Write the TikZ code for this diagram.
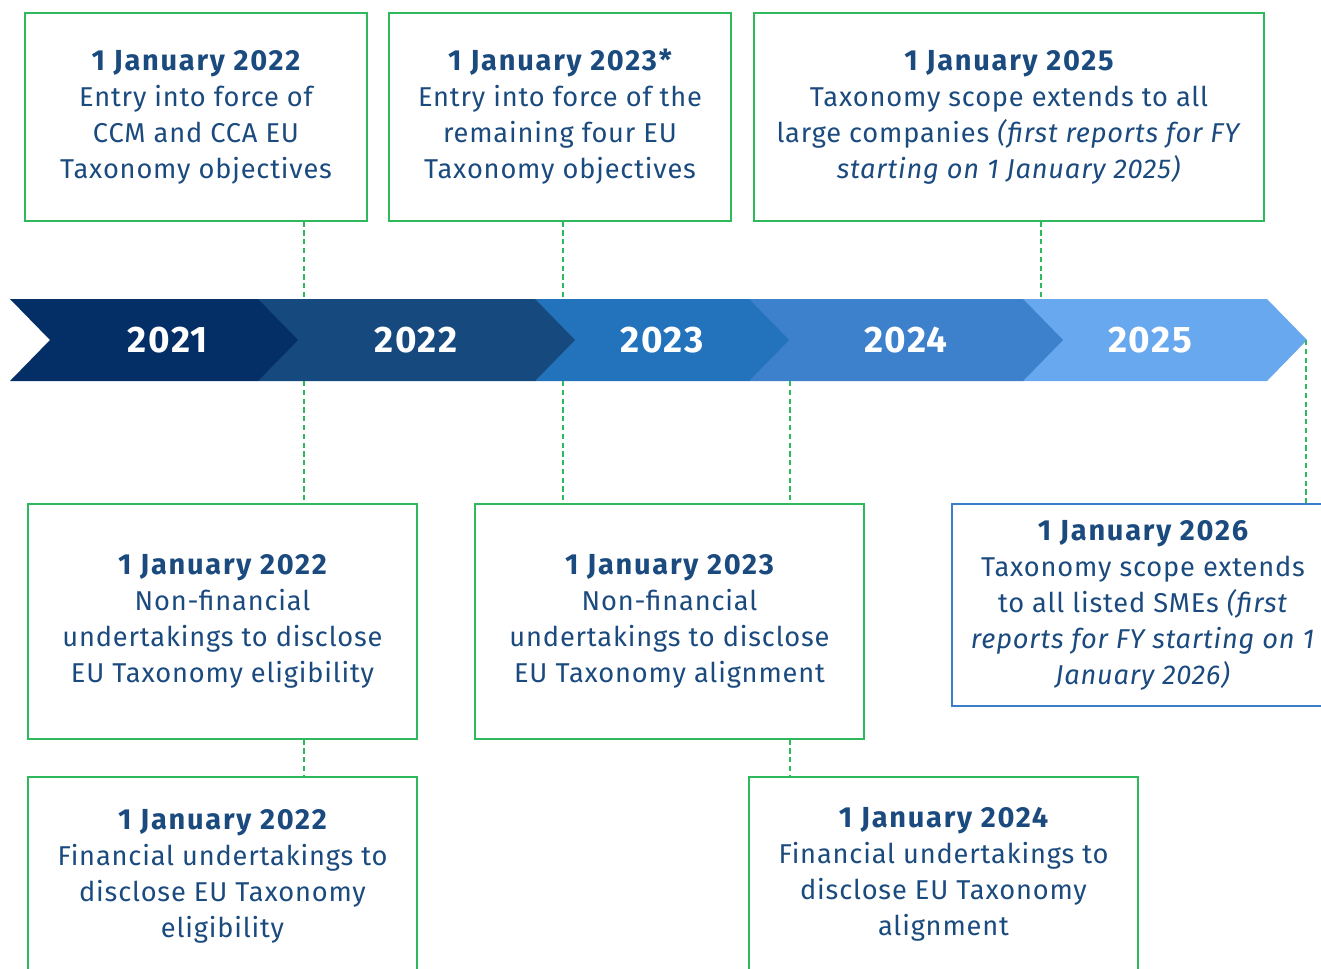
\documentclass[tikz,border=0pt]{standalone}
\usepackage{fontspec}
\setmainfont{Fira Sans}[LetterSpace=3]
\definecolor{yearA}{HTML}{032F66}
\definecolor{yearB}{HTML}{16497E}
\definecolor{yearC}{HTML}{2273BC}
\definecolor{yearD}{HTML}{3D80CC}
\definecolor{yearE}{HTML}{67A8EE}
\definecolor{linkgreen}{HTML}{2EBA5C}
\definecolor{textblue}{HTML}{1A4A7E}
\definecolor{edgeblue}{HTML}{3A7DC9}
\newcommand{\evdate}[1]{{\bfseries\fontsize{16.5}{20.5}\selectfont\addfontfeatures{LetterSpace=6}#1}}
\begin{document}
\begin{tikzpicture}[x=0.02cm,y=-0.02cm,
    evbox/.style={draw=linkgreen, line width=0.75pt, text=textblue, align=center,
      font=\fontsize{15.5}{20.5}\selectfont, inner sep=0pt},
    link/.style={draw=linkgreen, line width=0.6pt, dash pattern=on 3pt off 2pt},
    yearlbl/.style={text=white, font=\fontsize{21}{24}\selectfont\bfseries\addfontfeatures{LetterSpace=4}}]
  \useasboundingbox (0,0) rectangle (1321,968);
  \clip (0,0) rectangle (1321,968);
  % timeline band, drawn back to front
  \foreach \a/\b/\n/\c/\lx/\yr in {1023/1267/0/yearE/1150/2025,749/1023/0/yearD/906/2024,
      535/749/0/yearC/662/2023,258/535/0/yearB/416/2022,10/258/40/yearA/168/2021}{
    \fill[\c] (\a,299) -- (\b,299) -- (\b+40,340) -- (\b,381) -- (\a,381) -- (\a+\n,340) -- cycle;
    \node[yearlbl] (y\yr) at (\lx,340) {\yr};
  }
  \coordinate (bandtop) at (0,299);
  \coordinate (bandbot) at (0,381);
  \coordinate (t22) at (304,340);
  \coordinate (t23) at (563,340);
  \coordinate (t24) at (790,340);
  \coordinate (t25) at (1041,340);
  \coordinate (tip) at (1306,340);
  % boxes above
  \node[evbox, minimum width=6.84cm, minimum height=4.16cm] (top22) at (196,117)
    {\evdate{1 January 2022}\\Entry into force of\\CCM and CCA EU\\Taxonomy objectives};
  \node[evbox, minimum width=6.84cm, minimum height=4.16cm] (top23) at (560,117)
    {\evdate{1 January 2023*}\\Entry into force of the\\remaining four EU\\Taxonomy objectives};
  \node[evbox, minimum width=10.2cm, minimum height=4.16cm] (top25) at (1009,117)
    {\evdate{1 January 2025}\\Taxonomy scope extends to all\\large companies \textit{(first reports for FY}\\\textit{starting on 1 January 2025)}};
  % boxes below
  \node[evbox, minimum width=7.78cm, minimum height=4.7cm] (nfin22) at (222.5,621.5)
    {\evdate{1 January 2022}\\Non-financial\\undertakings to disclose\\EU Taxonomy eligibility};
  \node[evbox, minimum width=7.78cm, minimum height=4.7cm] (nfin23) at (669.5,621.5)
    {\evdate{1 January 2023}\\Non-financial\\undertakings to disclose\\EU Taxonomy alignment};
  \node[evbox, draw=edgeblue, minimum width=7.64cm, minimum height=4.04cm] (sme26) at (1143,605)
    {\evdate{1 January 2026}\\Taxonomy scope extends\\to all listed SMEs \textit{(first}\\\textit{reports for FY starting on 1}\\\textit{January 2026)}};
  \node[evbox, minimum width=7.78cm, minimum height=3.96cm] (fin22) at (222.5,876)
    {\evdate{1 January 2022}\\Financial undertakings to\\disclose EU Taxonomy\\eligibility};
  \node[evbox, minimum width=7.78cm, minimum height=3.88cm] (fin24) at (943.5,874)
    {\evdate{1 January 2024}\\Financial undertakings to\\disclose EU Taxonomy\\alignment};
  % dashed links
  \draw[link] (top22.south -| t22) -- (t22 |- bandtop);
  \draw[link] (t22 |- bandbot) -- (nfin22.north -| t22);
  \draw[link] (nfin22.south -| t22) -- (fin22.north -| t22);
  \draw[link] (top23.south -| t23) -- (t23 |- bandtop);
  \draw[link] (t23 |- bandbot) -- (nfin23.north -| t23);
  \draw[link] (top25.south -| t25) -- (t25 |- bandtop);
  \draw[link] (t24 |- bandbot) -- (nfin23.north -| t24);
  \draw[link] (nfin23.south -| t24) -- (fin24.north -| t24);
  \draw[link] (tip) -- (sme26.north -| tip);
\end{tikzpicture}
\end{document}
